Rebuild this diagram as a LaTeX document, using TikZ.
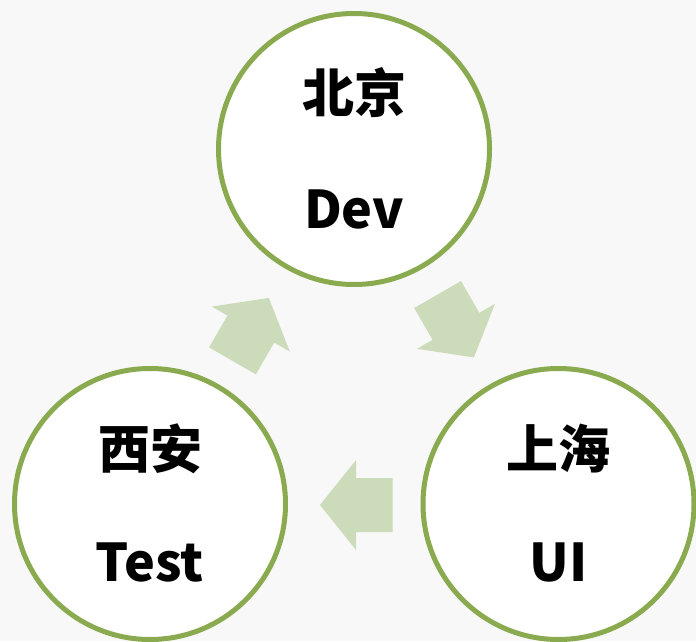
\documentclass[tikz,border=0pt]{standalone}
\usepackage{fontspec}
\newfontfamily\cjk{Noto Sans CJK SC}
\definecolor{bgray}{HTML}{F8F8F8}
\definecolor{ringgreen}{HTML}{8AAA4F}
\definecolor{arrowfill}{HTML}{CCDBB9}
\tikzset{
  city/.style={circle, draw=ringgreen, line width=5pt, fill=white, minimum size=271pt, inner sep=0pt},
  label/.style={font=\cjk\bfseries\fontsize{52}{60}\selectfont, text=black, inner sep=0pt, anchor=center},
  blockarrow/.pic={
    \fill[arrowfill] (-36.35,-27) -- (0.35,-27) -- (0.35,-45) -- (36.35,0)
      -- (0.35,45) -- (0.35,27) -- (-36.35,27) -- cycle;
  }
}
\begin{document}
\begin{tikzpicture}[x=1pt, y=1pt]
  % canvas
  \fill[bgray] (0,0) rectangle (696,641);
  \useasboundingbox (0,0) rectangle (696,641);

  % the three sites
  \node[city] (bj) at (354,492) {};
  \node[city] (xa) at (150,137) {};
  \node[city] (sh) at (558.5,137) {};

  \node[label] (bjcity) at ([yshift=56pt]bj.center) {北京};
  \node[label] (bjrole) at ([yshift=-60pt]bj.center) {Dev};
  \node[label] (xacity) at ([yshift=55pt]xa.center) {西安};
  \node[label] (xarole) at ([yshift=-58pt]xa.center) {Test};
  \node[label] (shcity) at ([yshift=55pt]sh.center) {上海};
  \node[label] (shrole) at ([yshift=-58pt]sh.center) {UI};

  % cycle arrows
  \pic[rotate=60] at (250.65,311.6) {blockarrow};
  \pic[rotate=-60] at (455.75,315) {blockarrow};
  \pic[rotate=180] at (356.35,136) {blockarrow};
\end{tikzpicture}
\end{document}
